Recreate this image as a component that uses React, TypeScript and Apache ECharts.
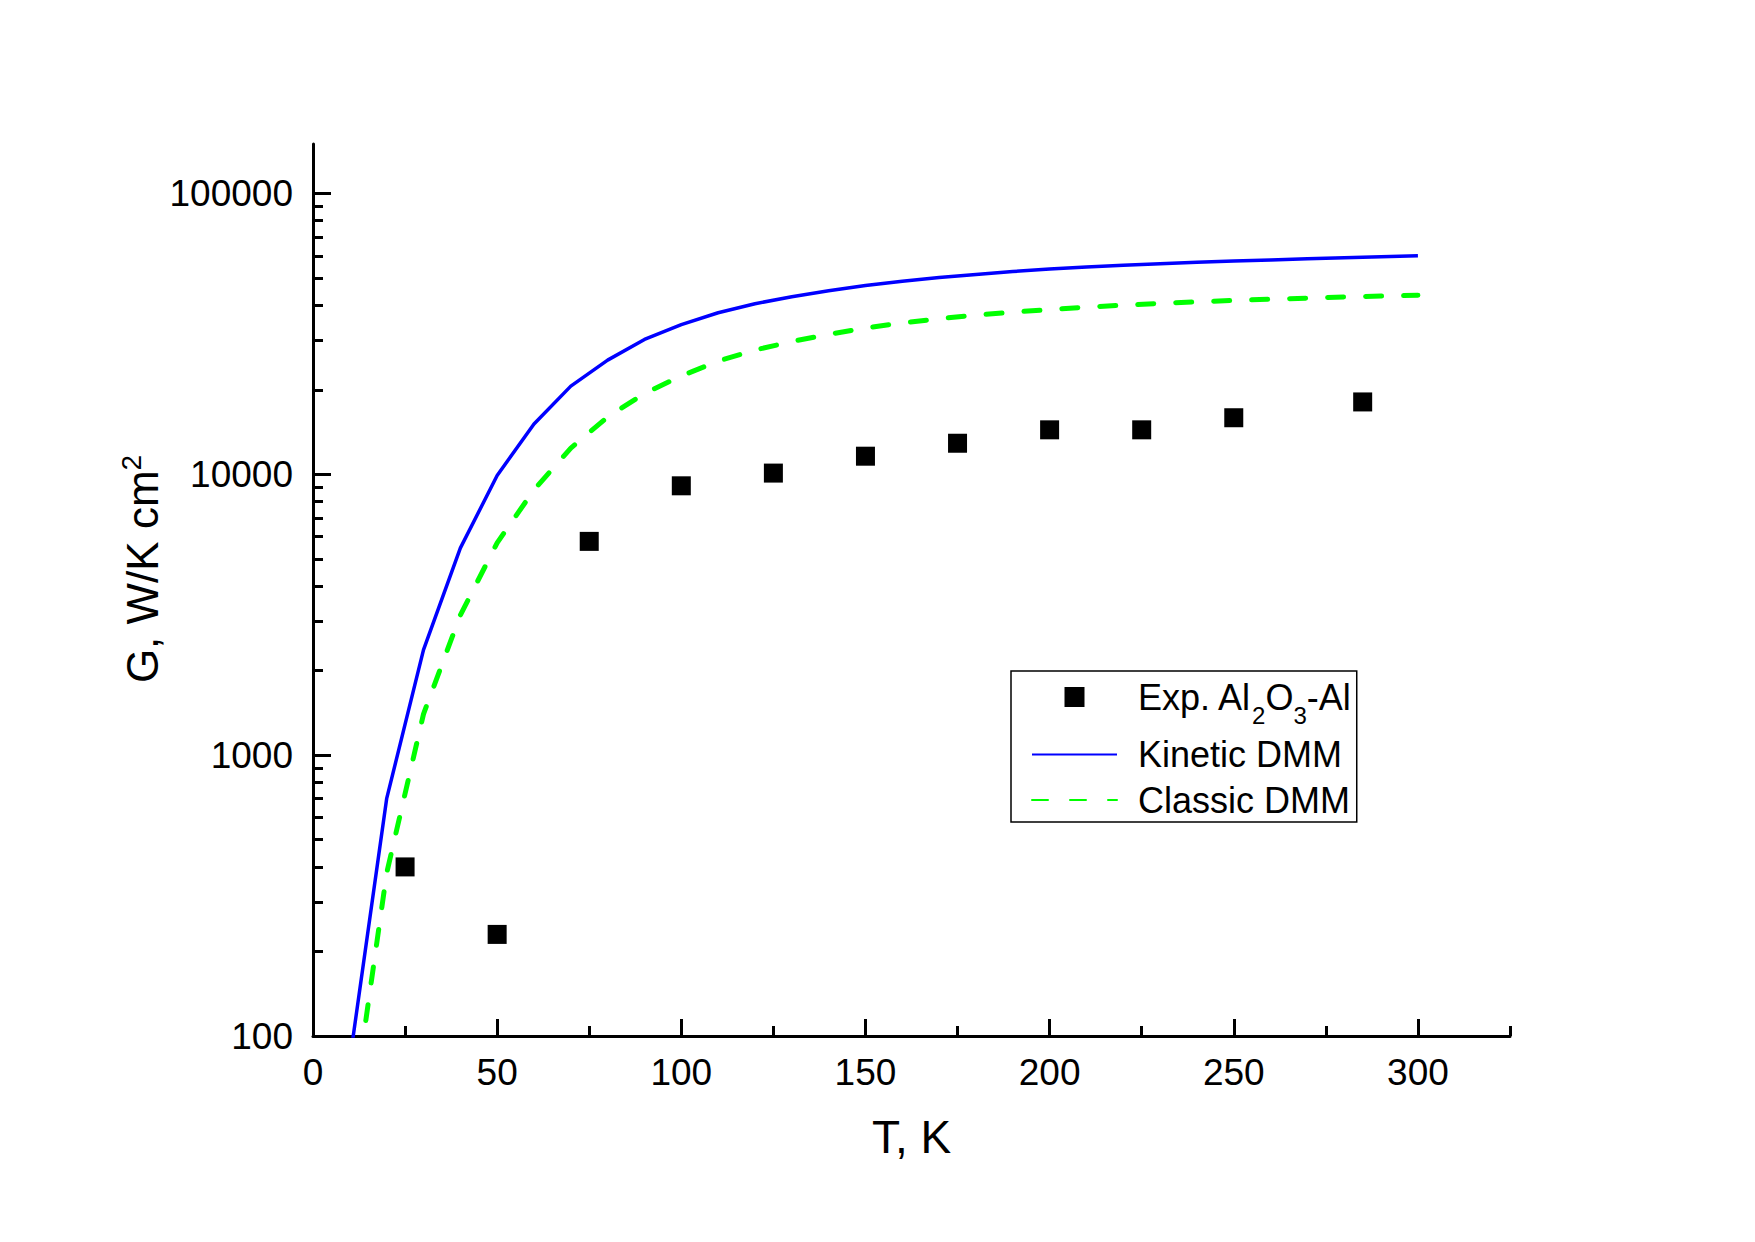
import React, { useEffect, useRef } from 'react';
import * as echarts from 'echarts';

const FONT = '"Liberation Sans", Arial, Helvetica, sans-serif';

// Temperatures (K) for the model curves
const T_MODEL = [10, 20, 30, 40, 50, 60, 70, 80, 90, 100, 110, 120, 130, 140, 150, 160, 170, 180, 190, 200, 210, 220, 230, 240, 250, 260, 270, 280, 290, 300];
// Kinetic DMM (W/K cm^2)
const G_KINETIC = [82, 700, 2370, 5460, 9900, 15100, 20600, 25500, 30200, 34100, 37600, 40500, 42900, 45000, 47000, 48700, 50200, 51500, 52700, 53800, 54700, 55500, 56200, 56900, 57500, 58000, 58500, 59000, 59500, 60000];
// Classic DMM (W/K cm^2)
const G_CLASSIC = [45, 380, 1400, 3150, 5700, 8800, 12400, 16000, 19400, 22400, 25300, 27700, 29700, 31500, 33200, 34600, 35800, 36900, 37800, 38600, 39400, 40000, 40600, 41100, 41600, 42000, 42400, 42800, 43100, 43400];
// Experimental Al2O3-Al
const T_EXP = [25, 50, 75, 100, 125, 150, 175, 200, 225, 250, 285];
const G_EXP = [400, 230, 5770, 9100, 10100, 11600, 12900, 14400, 14400, 15900, 18100];

// Axis ticks
const X_MAJOR = [0, 50, 100, 150, 200, 250, 300];
const X_MINOR = [25, 75, 125, 175, 225, 275, 325];
const Y_MAJOR = [100, 1000, 10000, 100000];
const Y_MINOR = [200, 300, 400, 500, 600, 700, 800, 900, 2000, 3000, 4000, 5000, 6000, 7000, 8000, 9000, 20000, 30000, 40000, 50000, 60000, 70000, 80000, 90000];

const NAME_EXP = 'Exp. Al2O3-Al';
const NAME_KIN = 'Kinetic DMM';
const NAME_CLA = 'Classic DMM';

export default function App() {
  const ref = useRef<HTMLDivElement>(null);
  useEffect(() => {
    if (!ref.current) return;
    const chart = echarts.init(ref.current, null, { renderer: 'svg' });
    const X_MIN = 0, X_MAX = 325, Y_MIN = 100, Y_MAX = 150000;
    const axisLineStyle = { color: '#000', width: 3 };
    const hidden = { color: 'rgba(0,0,0,0)', borderColor: 'rgba(0,0,0,0)', borderWidth: 0, opacity: 0 };
    const option: any = {
      animation: false,
      backgroundColor: '#fff',
      grid: { left: 313, top: 144, width: 1197, height: 892, containLabel: false },
      xAxis: [
        {
          type: 'value', min: X_MIN, max: X_MAX, position: 'bottom',
          axisLine: { show: true, lineStyle: axisLineStyle },
          axisTick: { show: true, inside: true, length: 17, customValues: X_MAJOR, lineStyle: { color: '#000', width: 3 } },
          axisLabel: { customValues: X_MAJOR, fontSize: 37, color: '#000', fontFamily: FONT, margin: 18 },
          splitLine: { show: false },
          name: 'T, K', nameLocation: 'middle', nameGap: 78,
          nameTextStyle: { fontSize: 46, color: '#000', fontFamily: FONT },
        },
        {
          type: 'value', min: X_MIN, max: X_MAX, position: 'bottom',
          axisLine: { show: false },
          axisTick: { show: true, inside: true, length: 10, customValues: X_MINOR, lineStyle: { color: '#000', width: 3 } },
          axisLabel: { show: false },
          splitLine: { show: false },
        },
      ],
      yAxis: [
        {
          type: 'log', logBase: 10, min: Y_MIN, max: Y_MAX, position: 'left',
          axisLine: { show: true, lineStyle: axisLineStyle },
          axisTick: { show: true, inside: true, length: 18, customValues: Y_MAJOR, lineStyle: { color: '#000', width: 3 } },
          axisLabel: { customValues: Y_MAJOR, fontSize: 37, color: '#000', fontFamily: FONT, margin: 20, formatter: (v: number) => String(Math.round(v)) },
          splitLine: { show: false },
          minorTick: { show: false },
        },
        {
          type: 'log', logBase: 10, min: Y_MIN, max: Y_MAX, position: 'left',
          axisLine: { show: false },
          axisTick: { show: true, inside: true, length: 10, customValues: Y_MINOR, lineStyle: { color: '#000', width: 3 } },
          axisLabel: { show: false },
          splitLine: { show: false },
        },
      ],
      legend: {
        orient: 'vertical', left: 1011, top: 671,
        data: [
          { name: NAME_EXP, icon: 'path://M0,0M85,20M32.5,0h20v20h-20z' },
          { name: NAME_KIN, itemStyle: hidden },
          { name: NAME_CLA, itemStyle: hidden },
        ],
        itemWidth: 85, itemHeight: 20, itemGap: 9.5,
        borderColor: '#000', borderWidth: 1.5, padding: [8, 6, 4, 20],
        selectedMode: false,
        formatter: (name: string) => name === NAME_EXP ? '{n|Exp. Al}{s|2}{n|O}{s|3}{n|-Al}' : '{n|' + name + '}',
        textStyle: {
          fontSize: 36, color: '#000', fontFamily: FONT, padding: [0, 0, 0, 16],
          rich: {
            n: { fontSize: 36, fontFamily: FONT, color: '#000', lineHeight: 40, verticalAlign: 'middle' },
            s: { fontSize: 24, fontFamily: FONT, color: '#000', lineHeight: 40, verticalAlign: 'bottom', padding: [0, 0, -10, 0] },
          },
        },
      },
      graphic: [
        {
          type: 'text', x: 142, y: 569, rotation: Math.PI / 2,
          style: {
            text: '{a|G, W/K cm}{s|2}',
            align: 'center', verticalAlign: 'middle', fill: '#000',
            rich: {
              a: { fontSize: 44, fontFamily: FONT, fill: '#000', lineHeight: 50, verticalAlign: 'middle' },
              s: { fontSize: 28, fontFamily: FONT, fill: '#000', lineHeight: 50, verticalAlign: 'top' },
            },
          },
        },
      ],
      series: [
        {
          name: NAME_EXP, type: 'scatter', xAxisIndex: 0, yAxisIndex: 0,
          symbol: 'rect', symbolSize: 19,
          itemStyle: { color: '#000', opacity: 1 },
          data: T_EXP.map((t, i) => [t, G_EXP[i]]),
          z: 5,
        },
        {
          name: NAME_KIN, type: 'line', xAxisIndex: 0, yAxisIndex: 0,
          showSymbol: false, symbol: 'none', clip: true,
          itemStyle: { color: '#0000ff' },
          lineStyle: { color: '#0000ff', width: 3.5 },
          data: T_MODEL.map((t, i) => [t, G_KINETIC[i]]),
        },
        {
          name: NAME_CLA, type: 'line', xAxisIndex: 0, yAxisIndex: 0,
          showSymbol: false, symbol: 'none', clip: true,
          itemStyle: { color: '#00ff00' },
          lineStyle: { color: '#00ff00', width: 5, type: [16, 22], cap: 'round' },
          data: T_MODEL.map((t, i) => [t, G_CLASSIC[i]]),
        },
      ],
    };
    chart.setOption(option);
    return () => chart.dispose();
  }, []);
  return <div ref={ref} style={{ position: 'fixed', left: 0, top: 0, width: 1755, height: 1242, background: '#fff' }} />;
}
